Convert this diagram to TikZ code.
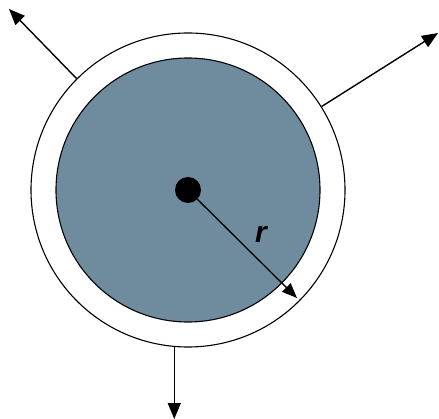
\documentclass[tikz,border=0pt]{standalone}
\usepackage{fontspec}
\newfontfamily\labelfont{Liberation Sans}
\usetikzlibrary{arrows.meta}
\definecolor{disk}{RGB}{110,140,158}
\begin{document}
\begin{tikzpicture}[x=1pt,y=-1pt,
  ring/.style={circle,draw=black,line width=1.1pt,inner sep=0pt},
  outarrow/.style={line width=1.4pt,-{Triangle[length=16pt,width=13pt]}},
  radarrow/.style={line width=1.3pt,-{Triangle[length=15pt,width=12pt]}}]
\useasboundingbox (0,0) rectangle (439,419);
\node[ring,fill=white,minimum size=314pt] (outer) at (188,190) {};
\node[ring,fill=disk,minimum size=264pt] (inner) at (188,190) {};
\node[circle,fill=black,minimum size=26pt,inner sep=0pt] (dot) at (188,190) {};
\coordinate (tl) at (9,9);
\coordinate (tr) at (438,33);
\coordinate (bs) at (outer.265.6);
\coordinate (bt) at (176,419);
\coordinate (rt) at (297,298);
\draw[outarrow] (outer.135) -- (tl);
\draw[outarrow] (outer.32.4) -- (tr);
\draw[outarrow] (bs) -- (bs |- bt);
\draw[radarrow] (dot) -- (rt);
\node[font=\labelfont\fontsize{30}{36}\selectfont\bfseries\itshape] (rlabel) at (261,234) {r};
\end{tikzpicture}
\end{document}
